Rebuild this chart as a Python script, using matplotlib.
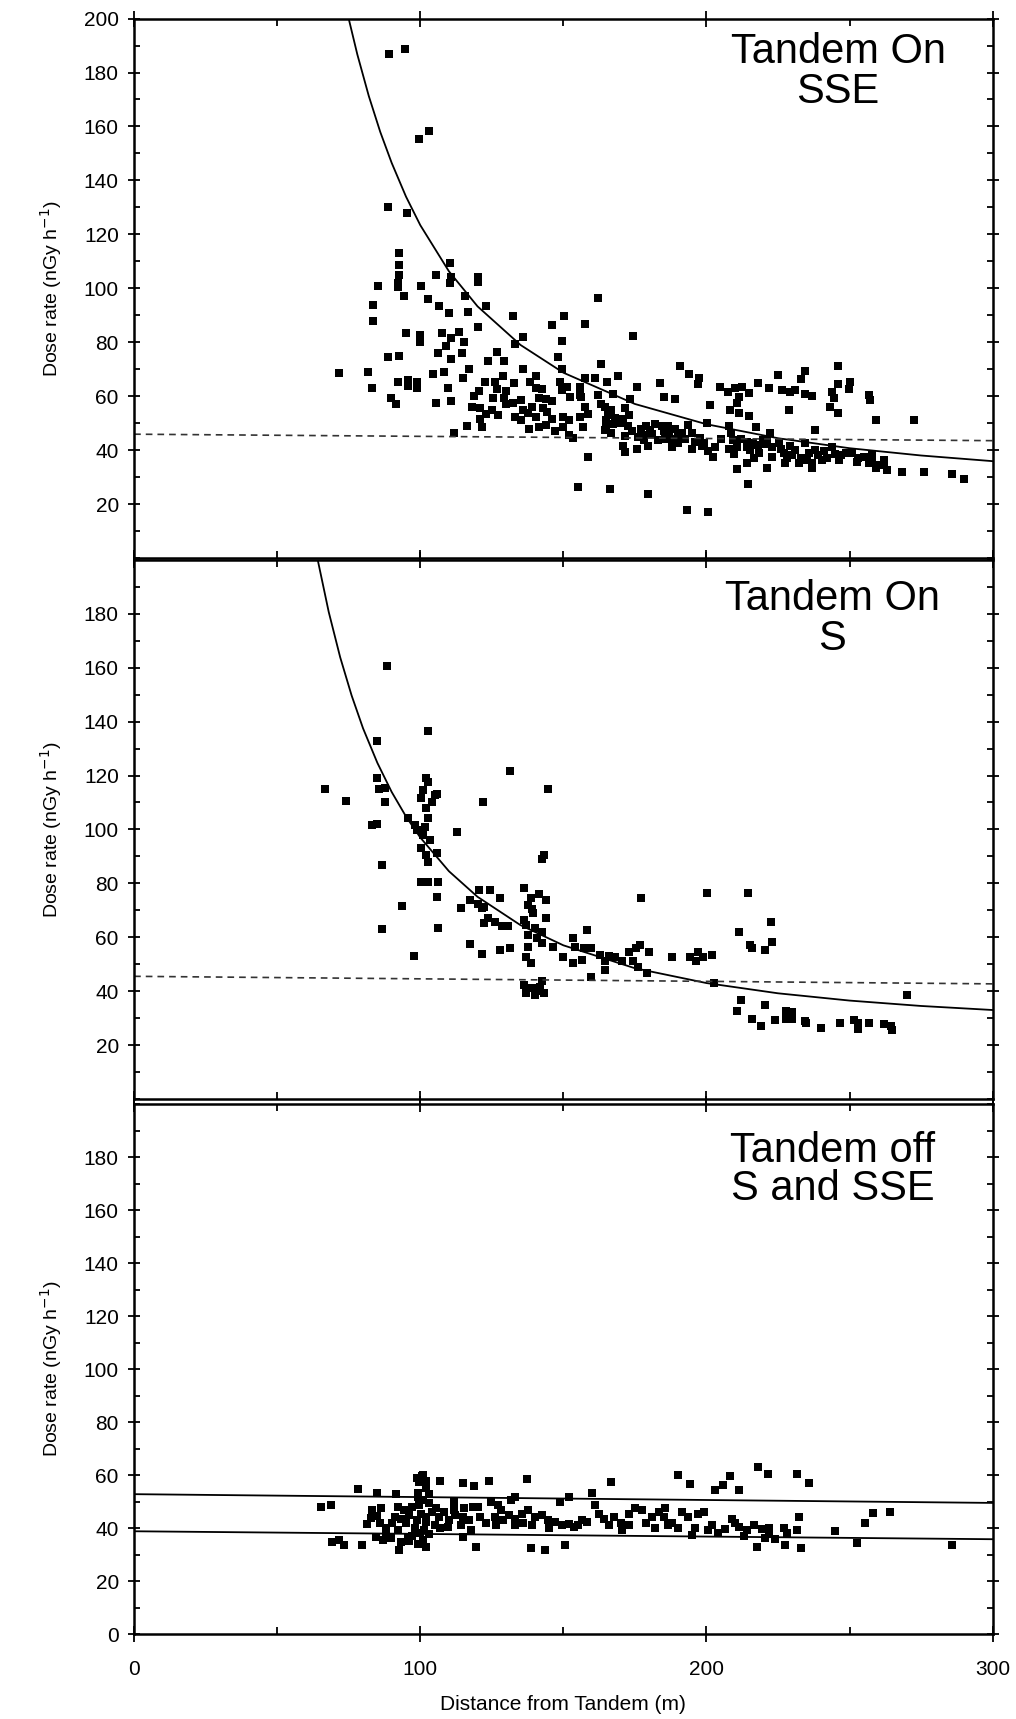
import numpy as np
import matplotlib
matplotlib.use('Agg')
import matplotlib.pyplot as plt
from matplotlib.ticker import MultipleLocator

plt.rcParams['font.family'] = ['Liberation Sans', 'DejaVu Sans']

# --- panel 1: Tandem On, SSE (distance m, dose rate nGy/h)
sse_pts = np.array([
    (88.9, 186.8), (94.6, 188.6), (103.2, 158.3), (99.4, 155.2), (88.8, 130.3), (95.3, 127.8),
    (92.6, 113), (92.5, 108.6), (92.5, 104.9), (105.5, 105), (110.5, 109.3), (110.7, 104), (120, 104),
    (85.1, 100.9), (92.3, 102), (92.3, 100.6), (100.2, 100.9), (110.4, 101.8), (120, 102.5), (94.4, 97.1),
    (102.8, 96), (106.4, 93.6), (110.2, 90.7), (116.8, 91.3), (123, 93.6), (115.7, 97.1), (83.4, 93.8),
    (83.4, 88), (132.4, 89.9), (150.2, 89.7), (146.1, 86.2), (149.6, 80.5), (120.3, 85.5), (135.9, 82),
    (133, 79.2), (95, 83.3), (100, 82.7), (100, 80.2), (107.5, 83.3), (110.8, 81.4), (115.2, 80.2),
    (109, 78.6), (113.7, 83.9), (106.3, 75.9), (110.8, 73.7), (114.7, 75.9), (126.8, 76.3), (123.7, 73.2),
    (129.2, 73.2), (148, 74.4), (149.4, 70), (88.6, 74.4), (92.7, 74.9), (71.6, 68.5), (81.6, 69.1),
    (83.3, 63.2), (92.3, 65.4), (95.8, 65.9), (95.8, 63.7), (98.8, 65.4), (98.8, 63.2), (104.3, 68.1),
    (108.4, 68.9), (109.6, 63), (114.8, 66.7), (117.1, 70.2), (110.6, 58.1), (105.4, 57.5), (89.9, 59.3),
    (91.4, 57.2), (122.7, 65.2), (126, 65.2), (128.9, 67.3), (132.8, 64.8), (135.9, 69.9), (138.3, 65.2),
    (140.6, 67.3), (126.9, 62.5), (129.8, 61.9), (129.2, 59.4), (125.4, 59.4), (118.6, 60), (120.5, 61.9),
    (132.4, 57.3), (135.3, 58.5), (135.9, 54.8), (137.6, 53.6), (133, 52.3), (135.3, 51.1), (140.3, 63.1),
    (142.6, 62.5), (141.4, 59.4), (144, 58.8), (146.1, 58.1), (140.3, 52.4), (141.4, 48.7), (144, 49.3),
    (144.3, 54.2), (147.2, 47.1), (120.9, 55.5), (122.9, 53.4), (120.7, 51.5), (121.5, 48.4), (116.3, 49.1),
    (111.9, 46.5), (148.8, 65.4), (151.1, 63.5), (152.3, 59.8), (149.4, 62.3), (149.9, 52.4), (153.4, 44.5),
    (155.2, 26.5), (155.8, 63.5), (155.8, 60.4), (155.8, 52.4),
    (162.2, 96.3), (157.5, 86.8), (174.2, 82.4), (163.3, 71.9), (157.5, 66.6), (161.2, 66.8), (165.1, 65.3),
    (169.2, 67.6), (156.3, 59.8), (162.2, 60.4), (167.4, 60.8), (173.3, 58.9), (175.6, 63.3), (183.8, 64.9),
    (185, 59.6), (188.9, 58.9), (190.6, 71), (194, 68.1), (197.5, 66.6), (197, 64.4), (201.2, 56.9),
    (204.8, 63.5), (207.7, 61.7), (210, 63), (212.4, 63.5), (214.7, 61), (211.2, 59.8), (210.6, 57.3),
    (208.3, 54.8), (211.2, 53.6), (214.7, 52.7), (218, 64.9), (222, 63), (225, 67.9), (226.4, 62.4),
    (229.3, 61.4), (231.1, 62.4), (229, 55), (232.9, 66.5), (234.4, 69.3), (234.4, 60.8), (236.8, 59.9),
    (245.8, 71.2), (246.1, 64.4), (250.2, 65.3), (249.9, 62.8), (243.8, 61.7), (244.6, 59.2), (243.2, 56.1),
    (245.8, 53.9), (256.9, 60.4), (257.3, 58.6), (259.2, 51.1), (272.4, 51.1), (237.8, 47.5), (217.3, 48.7),
    (222.1, 46.5), (219.6, 43.7), (216.1, 42.8), (214.1, 41.3), (157.4, 55.9), (158.7, 53.4), (157, 48.4),
    (158.7, 37.6), (164.5, 56), (166.8, 54.7), (165, 51), (167.4, 49.8), (164.5, 47.5), (166.8, 46.2),
    (171.5, 55.6), (170.9, 51.6), (172.6, 49.1), (171.5, 45.4), (170.9, 41.7), (171.5, 39.2), (175.6, 40.4),
    (177.3, 47.8), (179, 49.1), (180.2, 47.3), (178, 43.6), (179.7, 41.7), (166.3, 25.7), (179.7, 23.7),
    (184.4, 49.1), (186.7, 49.1), (189.1, 47.8), (183.2, 43.6), (185.6, 44.2), (187.9, 41.1), (191.4, 46.5),
    (190.2, 42.8), (193.6, 49.3), (194.8, 46.5), (192.5, 44.2), (194.8, 40.4), (197.8, 44.6), (198.3, 41.5),
    (200.7, 39.6), (202.4, 37.6), (200.1, 50), (193.3, 17.7), (200.5, 17.1), (207.9, 49.1), (208.5, 46.5),
    (207.9, 40.4), (209.7, 38.6), (209.1, 43.6), (210.6, 33.1), (210.7, 41.3), (214.2, 35.1), (215.3, 40),
    (216.5, 37), (218.3, 38.8), (220, 42.1), (221.2, 43.9), (222.9, 37.6), (221.2, 33.3), (225.3, 42.7),
    (227, 38.8), (227.6, 35.1), (229.3, 41.5), (231.1, 40), (232.3, 35.1), (234.6, 42.7), (235.8, 38.8),
    (236.9, 35.1), (236.9, 33.3), (238.1, 40), (240.4, 36.3), (242.2, 37), (243.9, 41.3), (246.3, 36.3),
    (248.6, 38.8), (250.9, 38.8), (252.7, 35.7), (255, 37.6), (256.8, 35.1), (259.1, 33.3), (257.9, 38.2),
    (261.9, 36.3), (263.1, 32.7), (268.4, 32), (276, 31.8), (285.9, 31.3), (290, 29.2), (214.4, 27.3),
    (163, 57), (165.5, 53), (168, 52), (165, 49), (170, 50), (173, 53), (174, 47), (176, 45), (178, 45.5),
    (181, 46), (182, 49.5), (185, 47), (187, 46), (188, 44), (190, 45), (196, 43), (199, 42.5), (203, 41),
    (205, 44), (212, 44), (214, 43), (218, 42), (223, 41), (226, 40.5), (228, 37), (230, 38), (233, 37),
    (235, 36.5), (239, 38), (241, 39.5), (245, 38.5), (247, 38), (253, 37), (258, 36), (260, 34.5),
    (262, 34.5), (150, 48.5), (152, 51), (146, 51.5), (139, 56), (143, 55.5), (138, 48), (130, 57),
    (125, 55), (127, 53), (118, 56), (152, 45.5),
])
sse_fit_x = [75, 78, 82, 86, 90, 95, 100, 110, 120, 135, 150, 175, 200, 225, 250, 275, 300]
sse_fit_y = [199.9, 186.7, 171.3, 158.0, 146.5, 134.0, 123.4, 106.3, 93.3, 79.0, 68.7, 57.1, 49.6,
             44.4, 40.7, 38.0, 35.9]
sse_bg_x = [0, 300]
sse_bg_y = [45.9, 43.5]

# --- panel 2: Tandem On, S
s_pts = np.array([
    (66.7, 114.9), (74.1, 110.5), (84.7, 132.7), (102.7, 136.4), (84.7, 118.9), (85.5, 114.9), (87.8, 115.2),
    (87.8, 110.2), (83.1, 101.6), (84.7, 101.9), (86.7, 86.8), (86.6, 63), (88.5, 160.5), (95.6, 104.1),
    (98.8, 99.8), (101.1, 97.9), (98, 101.6), (101.9, 118.9), (102.7, 117.7), (101.1, 114.6), (100.3, 111.5),
    (101.9, 107.8), (102.7, 104.1), (105, 112.7), (105.8, 113.3), (101.6, 101), (100.3, 93), (101.9, 90.5),
    (105.8, 91.1), (102.7, 88), (100.3, 80.6), (102.7, 80.6), (106.3, 80.4), (105.8, 75.1), (106.1, 63.3),
    (97.8, 53.2), (93.6, 71.7), (112.8, 99.1), (121.9, 110), (131.3, 121.6), (144.8, 114.9), (143.3, 90.5),
    (142.5, 88.9), (117.5, 73.8), (120.6, 77.5), (124.5, 77.5), (127.7, 74.4), (122.2, 71.4), (121.4, 70.7),
    (114.4, 70.7), (123.8, 67), (122.2, 65.2), (128.4, 64), (130.8, 64.2), (127.7, 55.3), (121.4, 53.7),
    (117.5, 57.4), (136.3, 78.1), (138.6, 74.4), (137.8, 72), (139.4, 68.9), (136.3, 66.4), (137, 64.6),
    (140.2, 63.3), (143.8, 73.8), (144.1, 67), (142.5, 62.1), (140.9, 59.6), (137.8, 56.5), (137, 52.8),
    (138.6, 50.4), (146.4, 56.5), (142.5, 57.7), (136.3, 42.3), (138.6, 41.1), (142.5, 43.6), (143.3, 39.3),
    (137, 39.3), (141, 39.9), (153.4, 59.6), (154.2, 56.5), (157.3, 55.9), (159.7, 55.9), (158.1, 62.7),
    (153.4, 50.4), (156.6, 51.6), (162.8, 53.5), (164.4, 51), (164.4, 48), (159.7, 45.4), (170.6, 51),
    (173, 54.7), (175.3, 55.9), (176.9, 57.2), (174.5, 51), (176.1, 49.1), (180, 54.7), (179.2, 46.7),
    (177.2, 74.4), (188.1, 52.8), (194.1, 52.8), (196.4, 51), (198.8, 52.8), (201.9, 53.5), (197.2, 54.7),
    (200.3, 76.5), (214.4, 76.5), (202.7, 43), (211.2, 62.1), (215.1, 57.2), (215.9, 55.9), (220.6, 55.3),
    (223, 58.4), (222.5, 65.6), (212, 36.8), (210.5, 32.7), (215.9, 29.8), (219, 26.9), (220.3, 34.9),
    (224.1, 29.4), (227.7, 29.8), (227.7, 32.5), (230, 32.2), (230, 29.7), (234.4, 29.1), (234.7, 28.2),
    (239.9, 26.3), (246.6, 28.2), (251.6, 29.4), (252.8, 28.2), (252.8, 26), (256.8, 28.2), (262.1, 27.8),
    (264.4, 27.2), (265, 25.7), (270.2, 38.7),
    (139, 41), (140, 38.5), (142, 41.5), (137.5, 61), (139, 70.5), (141.5, 76), (103.5, 96), (104, 110),
    (120, 72.5), (126, 65.5), (131.5, 56), (150, 52.5), (166, 53), (168, 52.5),
])
s_fit_x = [64, 68, 72, 76, 80, 85, 90, 95, 100, 110, 120, 135, 150, 175, 200, 225, 250, 275, 300]
s_fit_y = [200.8, 180.7, 163.9, 149.7, 137.5, 124.7, 113.9, 104.8, 97.0, 84.5, 75.0, 64.5, 57.0,
           48.5, 43.0, 39.2, 36.5, 34.5, 33.0]
s_bg_x = [0, 300]
s_bg_y = [45.5, 42.7]

# --- panel 3: Tandem off, S and SSE
off_pts = np.array([
    (65.2, 48), (68.7, 48.6), (78.3, 54.9), (85, 53.1), (91.5, 52.7), (100.8, 58.7), (101.9, 57.9),
    (99.7, 57.5), (100.5, 59.5), (107, 57.9), (114.8, 57.2), (118.6, 56), (124.1, 57.9), (137.2, 58.5),
    (166.6, 57.5), (99.1, 53.1), (99.1, 51.8), (100.8, 50.6), (99.7, 48.7), (103.2, 49.3), (111.9, 49.9),
    (111.9, 46.8), (115.4, 47.4), (118.3, 48), (120.1, 48), (105.5, 47.4), (108.4, 46.2), (106.7, 44.3),
    (83.3, 46.8), (86.2, 47.4), (82.7, 43.8), (85, 44.5), (81.5, 41.5), (92.1, 48), (94.4, 46.8),
    (91, 44.3), (93.4, 43.6), (92.1, 39.3), (92.6, 31.7), (100.2, 45.5), (101.9, 42.3), (101.3, 39.2),
    (103.2, 37.9), (100.8, 35.4), (102, 32.8), (99.1, 34), (98, 40), (99, 43), (102, 44), (97, 37),
    (96, 35), (100, 38), (84.5, 36.7), (86.9, 35.4), (89.7, 36.1), (93.4, 34.8), (95.7, 36.1), (79.8, 33.8),
    (69.3, 34.8), (71.6, 35.4), (73.4, 33.5), (109.6, 40.5), (114.3, 41.1), (117.8, 39.2), (114.9, 36.7),
    (119.5, 32.9), (124.8, 49.9), (127.1, 48.6), (128.3, 46.8), (131.8, 50.6), (133, 51.8), (126, 44.3),
    (126.5, 41.1), (133, 43.6), (135.4, 45.5), (133, 41.1), (137.8, 46.8), (140.1, 44.3), (142.5, 44.9),
    (144.8, 43), (147.1, 42.3), (149.5, 41.1), (151.8, 41.7), (153.6, 40.5), (156.5, 43), (158.3, 42.3),
    (160, 53.1), (151.8, 51.8), (148.9, 49.9), (138.8, 32.3), (143.5, 31.7), (150.5, 33.5), (161.1, 48.6),
    (162.3, 45.5), (164.1, 43.6), (165.8, 41.1), (167.6, 44.3), (170.5, 39.2), (172.8, 45.5), (175.2, 47.4),
    (177.5, 46.8), (181, 44.3), (183.4, 46.2), (190.1, 60), (194.3, 56.6), (203, 54.3), (205.9, 56.2),
    (211.3, 54.3), (208.3, 59.7), (217.9, 63.1), (221.5, 60.4), (231.7, 60.4), (235.8, 57.2), (185.5, 47.4),
    (185, 44.3), (186.7, 41.1), (191.4, 46.2), (193.7, 44.3), (197.2, 45.5), (199, 46.2), (194.9, 37.4),
    (200.7, 39.2), (206.6, 39.8), (208.9, 43.6), (211.3, 40.5), (214.2, 39.2), (216.5, 41.1), (219.4, 39.8),
    (221.8, 37.9), (220.6, 36.1), (217.7, 32.9), (227, 40.2), (227.6, 33.5), (231.7, 39.2), (232.3, 44.3),
    (232.9, 32.6), (245, 39), (252.6, 34.2), (255.5, 41.8), (258.1, 45.7), (264.1, 45.9), (285.9, 33.6),
    (88, 40), (90, 42), (88, 37), (95, 42), (96, 45), (97, 48), (104, 46), (86, 42), (105, 41), (107, 40),
    (110, 43), (112, 45), (103, 53), (102, 55), (101, 60), (99, 59), (115, 44), (117, 43), (121, 44),
    (123, 42), (129, 43), (131, 45), (136, 42), (139, 41), (145, 40), (155, 41), (170, 42), (173, 41),
    (179, 42), (182, 40), (188, 42), (190, 40), (196, 40), (202, 41), (204, 38), (210, 42), (213, 37),
    (222, 40), (224, 36), (228, 38),
])
off_hi_x = [0, 300]
off_hi_y = [52.8, 49.5]
off_lo_x = [0, 300]
off_lo_y = [38.8, 35.8]

panel_titles = ['Tandem On\nSSE', 'Tandem On\nS', 'Tandem off\nS and SSE']
ylabel = 'Dose rate (nGy h$^{-1}$)'
xlabel = 'Distance from Tandem (m)'

fig = plt.figure(figsize=(10.16, 17.19), dpi=100)
ax1 = fig.add_axes([0.132, 0.6754, 0.845, 0.3138])
ax2 = fig.add_axes([0.132, 0.3607, 0.845, 0.3136])
ax3 = fig.add_axes([0.132, 0.0494, 0.845, 0.3083])

for ax in (ax1, ax2, ax3):
    ax.set_xlim(0, 300)
    ax.set_ylim(0, 200)
    ax.xaxis.set_major_locator(MultipleLocator(100))
    ax.xaxis.set_minor_locator(MultipleLocator(50))
    ax.yaxis.set_major_locator(MultipleLocator(20))
    ax.yaxis.set_minor_locator(MultipleLocator(10))
    ax.tick_params(which='both', direction='in', top=True, right=True, labelsize=15, width=1.3)
    ax.tick_params(axis='y', which='major', length=8, direction='inout', pad=7)
    ax.tick_params(axis='y', which='minor', length=4)
    ax.tick_params(axis='x', which='major', length=12, direction='inout', pad=13)
    ax.tick_params(axis='x', which='minor', length=5)
    for sp in ax.spines.values():
        sp.set_linewidth(1.8)
    ax.set_ylabel(ylabel, fontsize=14, labelpad=14)

ax1.scatter(sse_pts[:, 0], sse_pts[:, 1], marker='s', s=27, c='black', linewidths=0)
ax1.plot(sse_fit_x, sse_fit_y, color='black', lw=1.3)
ax1.plot(sse_bg_x, sse_bg_y, color='#333333', lw=1.2, ls=(0, (4, 3)))
ax1.set_yticks(np.arange(20, 201, 20))

ax2.scatter(s_pts[:, 0], s_pts[:, 1], marker='s', s=27, c='black', linewidths=0)
ax2.plot(s_fit_x, s_fit_y, color='black', lw=1.3)
ax2.plot(s_bg_x, s_bg_y, color='#333333', lw=1.2, ls=(0, (4, 3)))
ax2.set_yticks(np.arange(20, 181, 20))

ax3.scatter(off_pts[:, 0], off_pts[:, 1], marker='s', s=27, c='black', linewidths=0)
ax3.plot(off_hi_x, off_hi_y, color='black', lw=1.3)
ax3.plot(off_lo_x, off_lo_y, color='black', lw=1.3)
ax3.set_yticks(np.arange(0, 181, 20))

for ax in (ax1, ax2):
    ax.tick_params(axis='x', labelbottom=False)
ax3.set_xticks([0, 100, 200, 300])
ax3.set_xlabel(xlabel, fontsize=15, labelpad=11)

ax1.text(246, 195, panel_titles[0], ha='center', va='top', fontsize=30, linespacing=1.0)
ax2.text(244, 193, panel_titles[1], ha='center', va='top', fontsize=30, linespacing=1.0)
ax3.text(244, 190, panel_titles[2], ha='center', va='top', fontsize=30, linespacing=0.95)

fig.savefig('out.png', dpi=100)
